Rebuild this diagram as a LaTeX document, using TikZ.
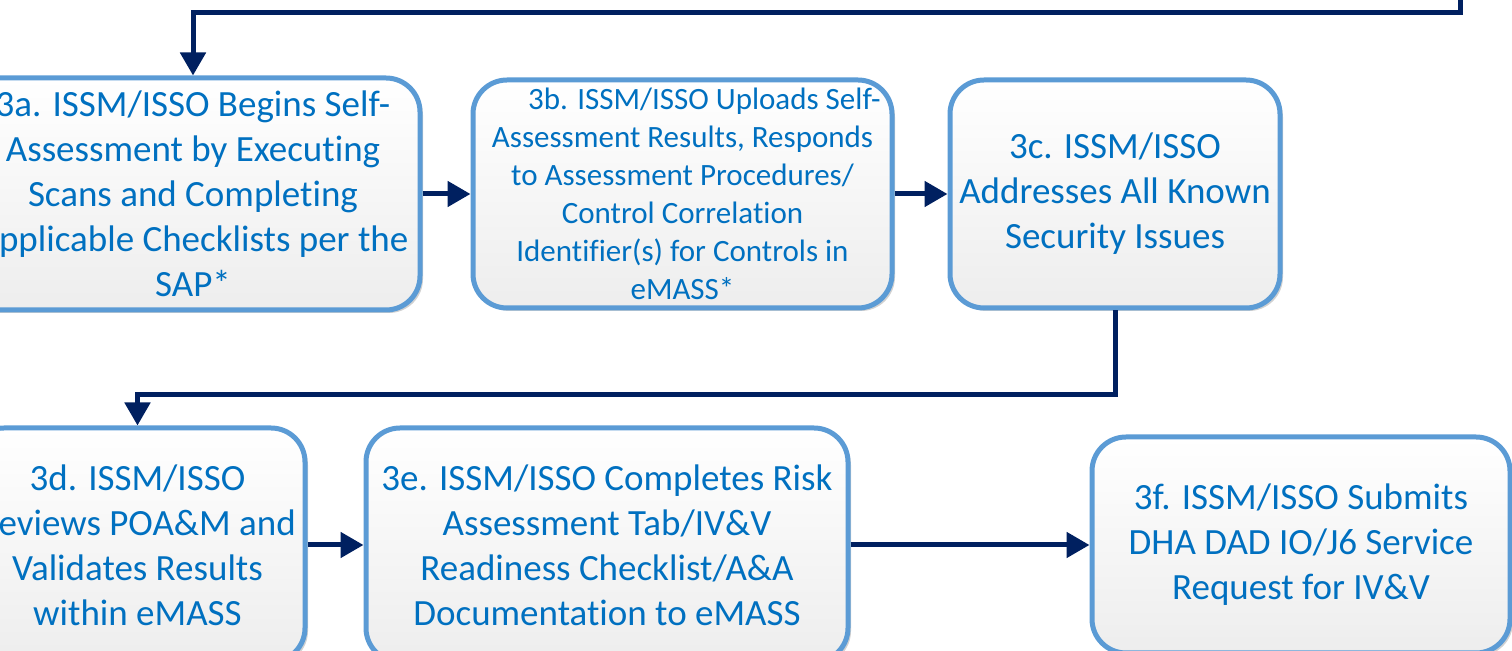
\documentclass[tikz,border=0pt]{standalone}
\usepackage{fontspec}
\setmainfont{Carlito}[Ligatures={NoCommon,NoContextual}]
\usetikzlibrary{arrows.meta,shadows}
\definecolor{txtblue}{HTML}{0070C0}
\definecolor{edgeblue}{HTML}{5B9BD5}
\definecolor{navy}{HTML}{002060}
\begin{document}
\begin{tikzpicture}[x=0.5pt,y=-0.5pt,
  stepbox/.style={draw=edgeblue, line width=2.5pt, rounded corners=17pt,
    top color=white, bottom color=black!7, text=txtblue, align=center,
    inner sep=0pt,
    drop shadow={shadow xshift=1.5pt, shadow yshift=-1.5pt, opacity=0.18, fill=black}},
  bigtxt/.style={font=\fontsize{18.5}{22.5}\selectfont},
  smalltxt/.style={font=\fontsize{15.5}{19}\selectfont},
  flow/.style={draw=navy, line width=2.5pt, line join=miter,
    -{Triangle[length=11.5pt,width=12.5pt]}}
]
\useasboundingbox (0,0) rectangle (1512,651);

\node[stepbox,bigtxt,minimum width=227pt,minimum height=116pt] (a) at (193,194)
  {3a. ISSM/ISSO Begins Self-\\Assessment by Executing\\Scans and Completing\\Applicable Checklists per the\\SAP*};
\node[stepbox,smalltxt,minimum width=209.5pt,minimum height=114pt] (b) at (682.5,194)
  {\hspace*{22pt}3b. ISSM/ISSO Uploads Self-\\Assessment Results, Responds\\to Assessment Procedures/\\Control Correlation\\Identifier(s) for Controls in\\eMASS*};
\node[stepbox,bigtxt,minimum width=165pt,minimum height=114pt] (c) at (1115,194)
  {3c. ISSM/ISSO\\Addresses All Known\\Security Issues};
\node[stepbox,bigtxt,minimum width=167.5pt,minimum height=117pt] (d) at (137.5,545)
  {3d. ISSM/ISSO\\Reviews POA\&M and\\Validates Results\\within eMASS};
\node[stepbox,bigtxt,minimum width=241pt,minimum height=117pt] (e) at (607,545)
  {3e. ISSM/ISSO Completes Risk\\Assessment Tab/IV\&V\\Readiness Checklist/A\&A\\Documentation to eMASS};
\node[stepbox,bigtxt,minimum width=209pt,minimum height=108pt] (f) at (1301,545)
  {3f. ISSM/ISSO Submits\\DHA DAD IO/J6 Service\\Request for IV\&V};

\coordinate (topin) at (1460,-5);
\draw[flow] (topin) -- (1460,13) -| (a.north);
\draw[flow] (a.east) -- (b.west);
\draw[flow] (b.east) -- (c.west);
\draw[flow] (c.south) -- ++(0,84) -| (d.north);
\draw[flow] (d.east) -- (e.west);
\draw[flow] (e.east) -- (f.west);
\end{tikzpicture}
\end{document}
